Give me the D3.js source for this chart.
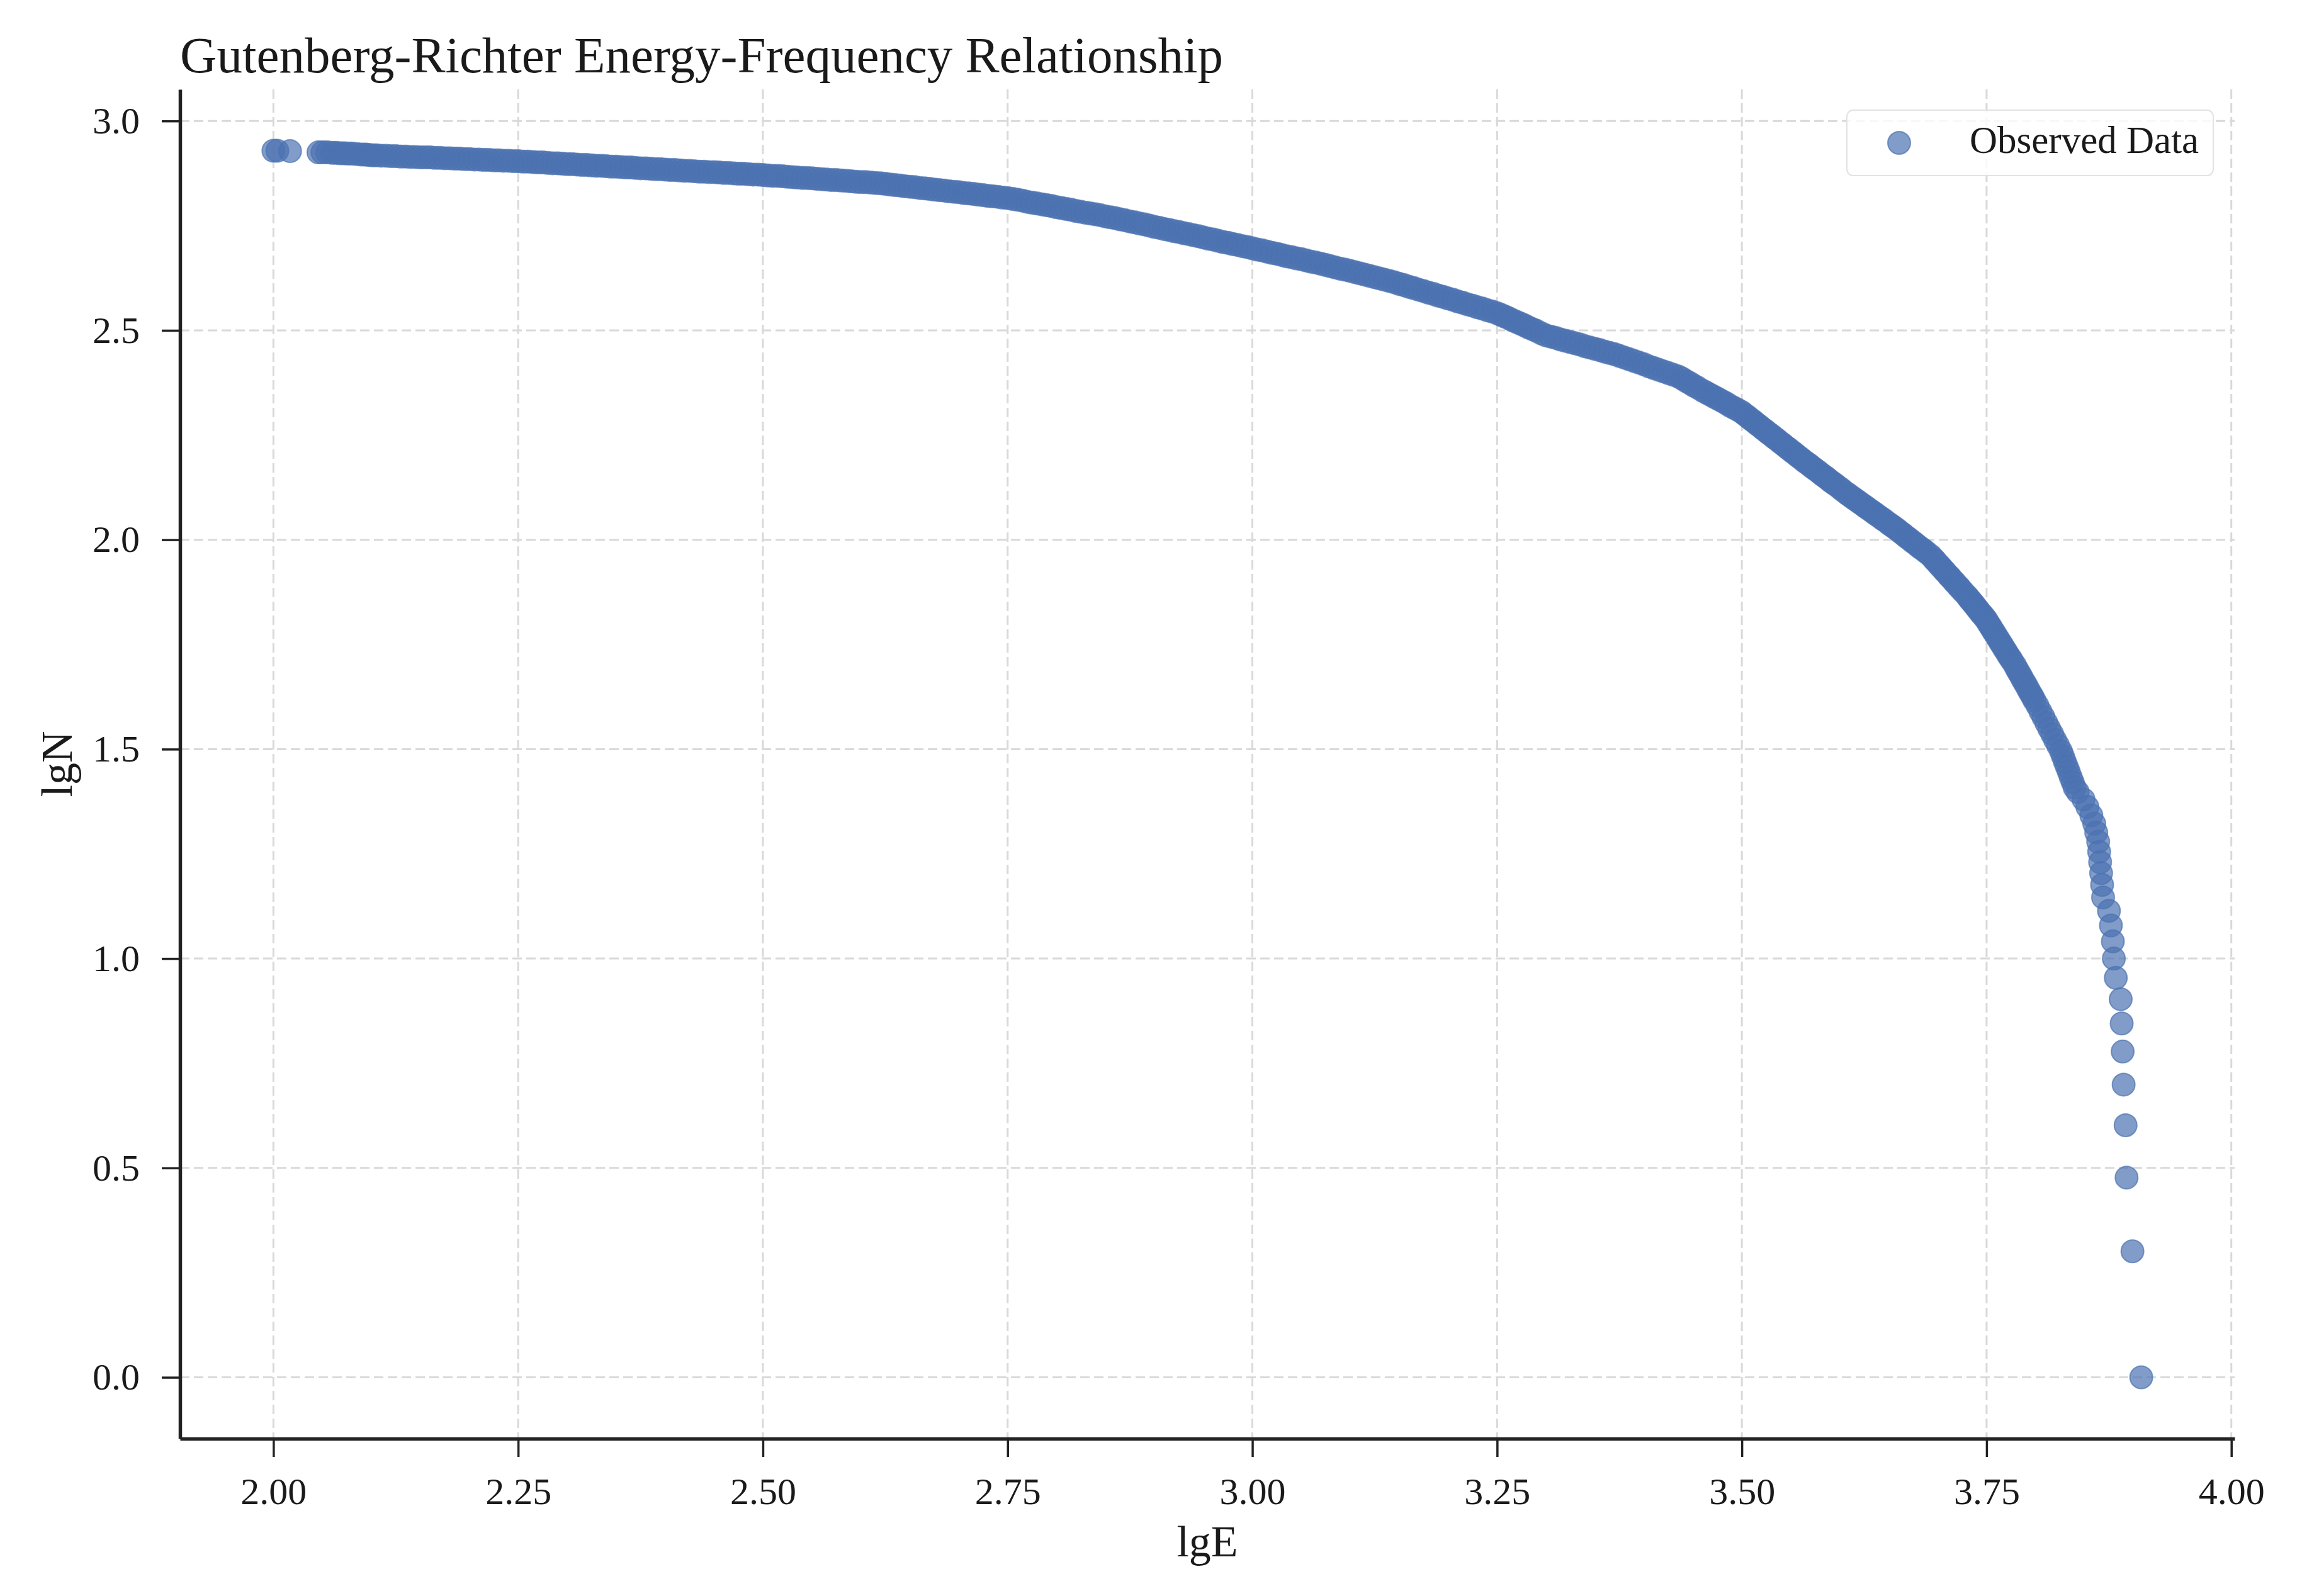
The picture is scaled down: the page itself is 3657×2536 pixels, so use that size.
<!DOCTYPE html>
<html>
<head>
<meta charset="utf-8">
<script src="https://cdn.jsdelivr.net/npm/d3@7"></script>
<style>
  html, body { margin: 0; padding: 0; background: #fff; }
  text { font-family: "Liberation Serif", "Times New Roman", serif; fill: #1a1a1a; }
</style>
</head>
<body>
<div id="chart"></div>
<script>
// ---- data: [lgE, lgN] ----
const observed = [
  [2.000,2.929],[2.004,2.929],[2.017,2.928],[2.046,2.925],[2.050,2.925],[2.055,2.925],[2.060,2.924],[2.064,2.924],[2.068,2.923],[2.072,2.923],[2.076,2.922],[2.080,2.922],[2.085,2.921],[2.090,2.920],[2.094,2.920],[2.097,2.919],[2.101,2.918],
  [2.105,2.918],[2.110,2.917],[2.115,2.917],[2.120,2.916],[2.125,2.916],[2.130,2.915],[2.135,2.915],[2.140,2.914],[2.145,2.914],[2.150,2.913],[2.155,2.913],[2.160,2.913],[2.165,2.912],[2.170,2.912],[2.175,2.911],[2.180,2.911],[2.185,2.910],[2.190,2.910],[2.195,2.909],[2.200,2.909],[2.205,2.908],[2.210,2.908],[2.215,2.907],[2.220,2.907],[2.225,2.906],[2.230,2.906],[2.235,2.905],[2.240,2.905],[2.245,2.904],[2.250,2.904],
  [2.255,2.903],[2.260,2.903],[2.265,2.902],[2.270,2.901],[2.275,2.901],[2.280,2.900],[2.285,2.899],[2.290,2.899],[2.295,2.898],[2.300,2.897],[2.305,2.897],[2.310,2.896],[2.315,2.895],[2.320,2.895],[2.325,2.894],[2.330,2.893],[2.335,2.893],[2.340,2.892],[2.345,2.891],[2.350,2.891],[2.355,2.890],[2.360,2.889],[2.365,2.889],[2.370,2.888],
  [2.375,2.887],[2.380,2.887],[2.385,2.886],[2.390,2.885],[2.395,2.885],[2.400,2.884],[2.405,2.883],[2.410,2.883],[2.415,2.882],[2.420,2.881],[2.425,2.881],[2.430,2.880],[2.435,2.879],[2.440,2.879],[2.445,2.878],[2.450,2.878],[2.455,2.877],[2.460,2.876],[2.465,2.876],[2.470,2.875],[2.475,2.874],[2.480,2.874],[2.485,2.873],[2.490,2.872],[2.495,2.872],[2.500,2.871],
  [2.505,2.870],[2.510,2.869],[2.515,2.869],[2.520,2.868],[2.525,2.867],[2.530,2.866],[2.535,2.865],[2.540,2.864],[2.545,2.864],[2.550,2.863],[2.555,2.862],[2.560,2.861],[2.565,2.860],[2.570,2.859],[2.575,2.859],[2.580,2.858],[2.585,2.857],[2.590,2.856],[2.595,2.855],[2.600,2.854],[2.605,2.854],[2.610,2.853],[2.615,2.852],[2.620,2.851],
  [2.625,2.850],[2.630,2.848],[2.635,2.847],[2.640,2.846],[2.645,2.844],[2.650,2.843],[2.655,2.842],[2.660,2.840],[2.665,2.839],[2.670,2.838],[2.675,2.836],[2.680,2.835],[2.685,2.834],[2.690,2.832],[2.695,2.831],[2.700,2.830],[2.705,2.828],[2.710,2.827],[2.715,2.826],[2.720,2.824],[2.725,2.823],[2.730,2.821],[2.735,2.820],[2.740,2.819],[2.745,2.817],[2.750,2.816],
  [2.755,2.814],[2.760,2.812],[2.765,2.810],[2.770,2.807],[2.775,2.805],[2.780,2.803],[2.785,2.801],[2.790,2.799],[2.795,2.797],[2.800,2.794],[2.805,2.792],[2.810,2.790],[2.815,2.788],[2.820,2.785],[2.825,2.783],[2.830,2.781],[2.835,2.779],[2.840,2.777],[2.845,2.775],[2.850,2.772],[2.855,2.770],[2.860,2.768],
  [2.865,2.765],[2.870,2.763],[2.875,2.760],[2.880,2.758],[2.885,2.755],[2.890,2.753],[2.895,2.750],[2.900,2.747],[2.905,2.745],[2.910,2.742],[2.915,2.740],[2.920,2.737],[2.925,2.735],[2.930,2.732],[2.935,2.730],[2.940,2.727],[2.945,2.725],[2.950,2.722],[2.955,2.719],[2.960,2.717],[2.965,2.714],[2.970,2.711],[2.975,2.709],[2.980,2.706],[2.985,2.704],[2.990,2.701],[2.995,2.699],[3.000,2.696],
  [3.005,2.693],[3.010,2.691],[3.015,2.688],[3.020,2.685],[3.025,2.683],[3.030,2.680],[3.035,2.677],[3.040,2.675],[3.045,2.672],[3.050,2.670],[3.055,2.667],[3.060,2.664],[3.065,2.662],[3.070,2.659],
  [3.075,2.656],[3.080,2.653],[3.085,2.650],[3.090,2.647],[3.095,2.645],[3.100,2.642],[3.105,2.639],[3.110,2.636],[3.115,2.633],[3.120,2.630],[3.125,2.627],[3.130,2.624],[3.135,2.621],[3.140,2.618],
  [3.145,2.615],[3.150,2.611],[3.155,2.608],[3.160,2.604],[3.165,2.601],[3.170,2.597],[3.175,2.594],[3.180,2.590],[3.185,2.587],[3.190,2.583],[3.195,2.580],[3.200,2.576],[3.205,2.573],
  [3.210,2.569],[3.215,2.566],[3.220,2.562],[3.225,2.559],[3.230,2.555],[3.235,2.552],[3.240,2.548],[3.245,2.545],[3.250,2.541],
  [3.254,2.537],[3.258,2.533],[3.262,2.529],[3.266,2.524],[3.270,2.520],[3.274,2.516],[3.278,2.512],[3.282,2.507],[3.286,2.503],[3.290,2.499],[3.295,2.493],[3.300,2.488],
  [3.305,2.485],[3.310,2.482],[3.315,2.478],[3.320,2.475],[3.325,2.472],[3.330,2.469],[3.335,2.466],[3.340,2.462],[3.345,2.459],[3.350,2.456],[3.355,2.453],[3.360,2.449],[3.365,2.446],[3.370,2.443],
  [3.375,2.439],[3.380,2.435],[3.385,2.431],[3.390,2.427],[3.395,2.423],[3.400,2.419],[3.405,2.414],[3.410,2.410],[3.415,2.406],[3.420,2.402],[3.425,2.398],[3.430,2.394],[3.435,2.390],
  [3.439,2.385],[3.443,2.379],[3.447,2.374],[3.451,2.368],[3.455,2.363],[3.460,2.356],
  [3.464,2.351],[3.468,2.346],[3.472,2.341],[3.476,2.336],[3.480,2.331],[3.484,2.326],[3.488,2.320],[3.492,2.315],[3.496,2.310],[3.500,2.305],
  [3.503,2.299],[3.506,2.294],[3.509,2.288],[3.512,2.283],[3.515,2.277],[3.518,2.272],[3.521,2.266],[3.524,2.261],[3.527,2.255],[3.530,2.250],[3.533,2.244],[3.536,2.239],[3.539,2.233],[3.542,2.228],[3.545,2.222],[3.548,2.217],[3.551,2.211],[3.554,2.206],[3.557,2.200],
  [3.560,2.195],[3.563,2.189],[3.566,2.184],[3.569,2.179],[3.572,2.173],[3.575,2.168],[3.578,2.163],[3.581,2.157],[3.584,2.152],[3.587,2.147],[3.590,2.141],[3.593,2.136],[3.596,2.131],[3.600,2.124],[3.603,2.118],[3.607,2.111],
  [3.610,2.106],[3.613,2.101],[3.616,2.096],[3.619,2.091],[3.622,2.086],[3.625,2.081],[3.628,2.076],[3.631,2.071],[3.634,2.066],[3.637,2.061],[3.640,2.056],[3.643,2.051],[3.646,2.046],[3.650,2.039],[3.653,2.034],[3.656,2.029],
  [3.659,2.024],[3.662,2.018],[3.665,2.013],[3.668,2.007],[3.671,2.002],[3.674,1.996],[3.677,1.991],[3.680,1.985],[3.683,1.980],[3.686,1.975],[3.689,1.969],[3.693,1.962],
  [3.696,1.954],[3.698,1.949],[3.701,1.941],[3.703,1.936],[3.706,1.928],[3.708,1.923],[3.711,1.915],[3.713,1.910],[3.716,1.902],[3.718,1.897],[3.721,1.889],[3.723,1.884],[3.726,1.876],[3.730,1.866],
  [3.732,1.860],[3.734,1.854],[3.736,1.849],[3.738,1.843],[3.740,1.837],[3.742,1.831],[3.744,1.825],[3.746,1.820],[3.748,1.814],[3.750,1.808],
  [3.752,1.800],[3.754,1.793],[3.756,1.785],[3.758,1.778],[3.760,1.770],[3.762,1.763],[3.764,1.755],[3.766,1.748],[3.768,1.740],[3.770,1.733],[3.772,1.725],[3.774,1.718],[3.776,1.711],[3.779,1.700],
  [3.781,1.691],[3.783,1.683],[3.785,1.675],[3.787,1.666],[3.789,1.658],[3.791,1.650],[3.793,1.641],[3.795,1.633],[3.797,1.625],[3.799,1.616],[3.802,1.604],
  [3.805,1.590],[3.808,1.577],[3.811,1.563],[3.814,1.549],[3.817,1.536],[3.820,1.522],[3.823,1.509],[3.826,1.495],
  [3.828,1.483],[3.830,1.470],[3.832,1.458],[3.834,1.446],[3.836,1.433],[3.838,1.421],[3.840,1.408],
  [3.843,1.398],[3.849,1.380],[3.853,1.362],[3.857,1.342],[3.860,1.322],[3.862,1.301],[3.864,1.279],[3.865,1.255],
  [3.866,1.230],[3.867,1.204],[3.868,1.176],[3.869,1.146],[3.875,1.114],[3.877,1.079],[3.879,1.041],[3.880,1.000],
  [3.882,0.954],[3.887,0.903],[3.888,0.845],[3.889,0.778],[3.890,0.699],[3.892,0.602],[3.893,0.477],[3.899,0.301],[3.908,0.000]
];

const xTicks = [2.00, 2.25, 2.50, 2.75, 3.00, 3.25, 3.50, 3.75, 4.00];
const yTicks = [0.0, 0.5, 1.0, 1.5, 2.0, 2.5, 3.0];

const titleText = "Gutenberg-Richter Energy-Frequency Relationship";
const xLabel = "lgE";
const yLabel = "lgN";
const seriesName = "Observed Data";

// ---- layout ----
const width = 3657, height = 2536;
const margin = {top: 142, right: 107, bottom: 250, left: 286};
const innerW = width - margin.left - margin.right;
const innerH = height - margin.top - margin.bottom;
const blue = "#4C72B0";
const alpha = 0.7;
const radius = 18;

const svg = d3.select("#chart")
  .append("svg")
  .attr("width", width)
  .attr("height", height);

// matplotlib-style 5% margins around the data
function padded(ext) {
  const p = (ext[1] - ext[0]) * 0.05;
  return [ext[0] - p, ext[1] + p];
}

const x = d3.scaleLinear()
  .domain(padded(d3.extent(observed, d => d[0])))
  .range([margin.left, margin.left + innerW]);

const y = d3.scaleLinear()
  .domain(padded(d3.extent(observed, d => d[1])))
  .range([margin.top + innerH, margin.top]);

// grid
const grid = svg.append("g")
  .attr("stroke", "#d9d9d9")
  .attr("stroke-width", 3)
  .attr("stroke-dasharray", "15,7");

grid.selectAll(".vg")
  .data(xTicks)
  .enter()
  .append("line")
  .attr("x1", d => x(d)).attr("x2", d => x(d))
  .attr("y1", margin.top).attr("y2", margin.top + innerH);

grid.selectAll(".hg")
  .data(yTicks)
  .enter()
  .append("line")
  .attr("y1", d => y(d)).attr("y2", d => y(d))
  .attr("x1", margin.left).attr("x2", margin.left + innerW);

// points
svg.append("g")
  .selectAll("circle")
  .data(observed)
  .enter()
  .append("circle")
  .attr("cx", d => x(d[0]))
  .attr("cy", d => y(d[1]))
  .attr("r", radius)
  .attr("fill", blue)
  .attr("fill-opacity", alpha)
  .attr("stroke", blue)
  .attr("stroke-opacity", alpha)
  .attr("stroke-width", 2);

// axes
const xAxis = svg.append("g")
  .attr("transform", `translate(0,${margin.top + innerH})`)
  .call(d3.axisBottom(x)
    .tickValues(xTicks)
    .tickFormat(d3.format(".2f"))
    .tickSize(29)
    .tickSizeOuter(0)
    .tickPadding(32));

const yAxis = svg.append("g")
  .attr("transform", `translate(${margin.left},0)`)
  .call(d3.axisLeft(y)
    .tickValues(yTicks)
    .tickFormat(d3.format(".1f"))
    .tickSize(29)
    .tickSizeOuter(0)
    .tickPadding(35));

[xAxis, yAxis].forEach(g => {
  g.select(".domain").attr("stroke", "#222").attr("stroke-width", 5.5);
  g.selectAll(".tick line").attr("stroke", "#222").attr("stroke-width", 3.5);
  g.selectAll(".tick text")
    .attr("fill", "#1a1a1a")
    .style("font-family", "'Liberation Serif', 'Times New Roman', serif")
    .style("font-size", "60px");
});

// labels
svg.append("text")
  .attr("x", margin.left + innerW / 2)
  .attr("y", 2473)
  .attr("text-anchor", "middle")
  .style("font-size", "70px")
  .text(xLabel);

svg.append("text")
  .attr("transform", `translate(114,${margin.top + innerH / 2}) rotate(-90)`)
  .attr("text-anchor", "middle")
  .style("font-size", "70px")
  .text(yLabel);

svg.append("text")
  .attr("x", margin.left)
  .attr("y", 115)
  .style("font-size", "81px")
  .text(titleText);

// legend
const legend = svg.append("g")
  .attr("transform", "translate(2934,175)");

legend.append("rect")
  .attr("width", 582)
  .attr("height", 104)
  .attr("rx", 10)
  .attr("fill", "#fff")
  .attr("fill-opacity", 0.8)
  .attr("stroke", "#e2e2e2")
  .attr("stroke-width", 2);

legend.append("circle")
  .attr("cx", 83)
  .attr("cy", 52)
  .attr("r", radius)
  .attr("fill", blue)
  .attr("fill-opacity", alpha)
  .attr("stroke", blue)
  .attr("stroke-opacity", alpha)
  .attr("stroke-width", 2);

legend.append("text")
  .attr("x", 195)
  .attr("y", 68)
  .style("font-size", "61px")
  .text(seriesName);
</script>
</body>
</html>
